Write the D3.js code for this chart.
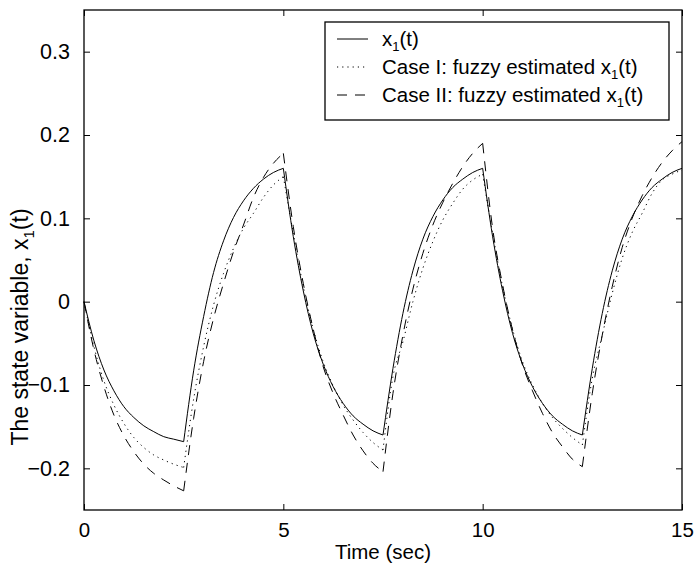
<!DOCTYPE html>
<html><head><meta charset="utf-8">
<script src="https://cdn.jsdelivr.net/npm/d3@7"></script>
<style>
body{margin:0;background:#fff;}
text{font-family:"Liberation Sans",Arial,Helvetica,sans-serif;fill:#000;}
</style></head>
<body><svg id="chart" width="695" height="566"></svg>
<script>
// time samples (sec)
const time = [0,0.25,0.5,0.75,1,1.25,1.5,1.75,2,2.25,2.5,
  2.75,3,3.25,3.5,3.75,4,4.25,4.5,4.75,5,
  5.25,5.5,5.75,6,6.25,6.5,6.75,7,7.25,7.5,
  7.75,8,8.25,8.5,8.75,9,9.25,9.5,9.75,10,
  10.25,10.5,10.75,11,11.25,11.5,11.75,12,12.25,12.5,
  12.75,13,13.25,13.5,13.75,14,14.25,14.5,14.75,15];
// switching instants where the input changes sign
const switchTimes = [0,2.5,5,7.5,10,12.5,15];
// x1(t)
const x1 = [0,-0.047,-0.082,-0.107,-0.126,-0.139,-0.149,-0.156,-0.162,-0.165,-0.168,
  -0.083,-0.018,0.035,0.073,0.101,0.121,0.136,0.147,0.155,0.160,
  0.078,0.013,-0.038,-0.075,-0.102,-0.122,-0.137,-0.147,-0.155,-0.160,
  -0.080,-0.014,0.037,0.075,0.102,0.122,0.137,0.147,0.155,0.160,
  0.078,0.013,-0.038,-0.075,-0.102,-0.122,-0.137,-0.147,-0.155,-0.160,
  -0.080,-0.014,0.037,0.075,0.102,0.122,0.137,0.147,0.155,0.160];
// Case I: fuzzy estimated x1(t)
const caseI = [0,-0.054,-0.095,-0.124,-0.146,-0.163,-0.175,-0.184,-0.190,-0.195,-0.199,
  -0.117,-0.054,-0.004,0.034,0.064,0.088,0.106,0.125,0.140,0.150,
  0.082,0.018,-0.033,-0.072,-0.101,-0.124,-0.142,-0.157,-0.169,-0.178,
  -0.090,-0.048,0.000,0.040,0.072,0.098,0.118,0.135,0.146,0.153,
  0.082,0.018,-0.033,-0.072,-0.100,-0.122,-0.139,-0.152,-0.163,-0.172,
  -0.092,-0.040,0.010,0.052,0.083,0.106,0.130,0.146,0.153,0.158];
// Case II: fuzzy estimated x1(t)
const caseII = [0,-0.058,-0.102,-0.136,-0.161,-0.180,-0.195,-0.206,-0.214,-0.221,-0.227,
  -0.140,-0.072,-0.020,0.022,0.060,0.092,0.125,0.149,0.166,0.178,
  0.090,0.022,-0.033,-0.078,-0.110,-0.136,-0.160,-0.179,-0.194,-0.204,
  -0.110,-0.040,0.015,0.058,0.092,0.119,0.142,0.162,0.178,0.190,
  0.088,0.020,-0.034,-0.076,-0.107,-0.134,-0.157,-0.174,-0.189,-0.198,
  -0.110,-0.040,0.018,0.065,0.100,0.127,0.149,0.167,0.181,0.192];

const xTicks = [0,5,10,15];
const yTicks = [-0.2,-0.1,0,0.1,0.2,0.3];
const yTickLabels = ["\u22120.2","\u22120.1","0","0.1","0.2","0.3"];
const xTickLabels = ["0","5","10","15"];

const svg = d3.select("#chart");
const L=84, R=682, T=10, B=510;
const x = d3.scaleLinear().domain([0,15]).range([L,R]);
const y = d3.scaleLinear().domain([-0.25,0.35]).range([B,T]);

const fs = 20.5;
const gx = svg.append("g").attr("transform",`translate(0,${B})`)
  .call(d3.axisBottom(x).tickValues(xTicks).tickFormat((d,i)=>xTickLabels[i]).tickSize(-6).tickPadding(12));
const gxt = svg.append("g").attr("transform",`translate(0,${T})`)
  .call(d3.axisTop(x).tickValues(xTicks).tickFormat("").tickSize(-6));
const gy = svg.append("g").attr("transform",`translate(${L},0)`)
  .call(d3.axisLeft(y).tickValues(yTicks).tickFormat((d,i)=>yTickLabels[i]).tickSize(-6).tickPadding(14));
const gyr = svg.append("g").attr("transform",`translate(${R},0)`)
  .call(d3.axisRight(y).tickValues(yTicks).tickFormat("").tickSize(-6));
[gx,gxt,gy,gyr].forEach(g=>{
  g.select(".domain").remove();
  g.selectAll(".tick line").attr("stroke","#000").attr("stroke-width",1);
  g.selectAll(".tick text").attr("font-size",fs).attr("font-family","Liberation Sans, Arial, sans-serif").attr("fill","#000");
});
gx.selectAll(".tick text").attr("dy","0.71em");
gy.selectAll(".tick text").attr("font-size",21.5);

// curves: each half-period drawn as its own smooth piece
const line = d3.line().x(d=>x(d[0])).y(d=>y(d[1])).curve(d3.curveMonotoneX);
function pieces(vals){
  const out=[];
  for(let k=0;k<switchTimes.length-1;k++){
    const seg=[];
    time.forEach((t,i)=>{ if(t>=switchTimes[k]-1e-9 && t<=switchTimes[k+1]+1e-9) seg.push([t,vals[i]]); });
    out.push(seg);
  }
  return out;
}
const plot = svg.append("g");
const styles = [
  {vals:x1, dash:null},
  {vals:caseI, dash:"1.2,4"},
  {vals:caseII, dash:"10,8"}
];
styles.forEach(s=>{
  plot.selectAll(null).data(pieces(s.vals)).enter().append("path")
    .attr("d",line).attr("fill","none").attr("stroke","#000").attr("stroke-width",1)
    .attr("stroke-dasharray",s.dash);
});

// frame
svg.append("rect").attr("x",L).attr("y",T).attr("width",R-L).attr("height",B-T)
  .attr("fill","none").attr("stroke","#000").attr("stroke-width",1.3);

// legend
const lg = svg.append("g");
lg.append("rect").attr("x",325).attr("y",22).attr("width",344).attr("height",98)
  .attr("fill","#fff").attr("stroke","#000").attr("stroke-width",1.3);
const legendItems = [
  {pre:"x", post:"(t)", dash:null},
  {pre:"Case I: fuzzy estimated x", post:"(t)", dash:"1.2,4"},
  {pre:"Case II: fuzzy estimated x", post:"(t)", dash:"10,8"}
];
const rowY = [46,74,102];
legendItems.forEach((it,i)=>{
  const cy = rowY[i]-7;
  lg.append("line").attr("x1",337).attr("x2",368).attr("y1",cy).attr("y2",cy)
    .attr("stroke","#000").attr("stroke-width",1).attr("stroke-dasharray",it.dash);
  const t = lg.append("text").attr("x",382).attr("y",rowY[i]).attr("font-size",fs);
  t.append("tspan").text(it.pre);
  t.append("tspan").attr("dy",5).attr("font-size",13).text("1");
  t.append("tspan").attr("dy",-5).text(it.post);
});

// axis titles
svg.append("text").attr("x",(L+R)/2).attr("y",559).attr("text-anchor","middle")
  .attr("font-size",fs).text("Time (sec)");
const yl = svg.append("text").attr("transform",`translate(28,327) rotate(-90)`)
  .attr("text-anchor","middle").attr("font-size",23);
yl.append("tspan").text("The state variable, x");
yl.append("tspan").attr("dy",6).attr("font-size",15).text("1");
yl.append("tspan").attr("dy",-6).text("(t)");
</script></body></html>
